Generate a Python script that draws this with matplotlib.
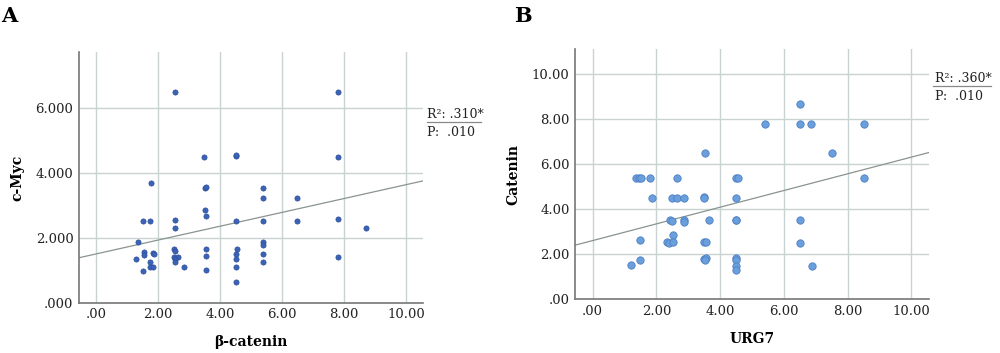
import matplotlib
matplotlib.use("Agg")
import matplotlib.pyplot as plt
import numpy as np

# Panel A data: beta-catenin vs c-Myc
a_x = [1.77, 1.50, 1.74, 1.34, 1.55, 1.55, 1.30, 1.75, 1.85, 1.87, 1.50, 1.75, 1.85,
       2.54, 2.54, 2.50, 2.54, 2.50, 2.66, 2.54, 2.54, 2.84, 2.54,
       3.51, 3.56, 3.50, 3.54, 3.54, 3.54, 3.54, 3.47,
       4.51, 4.54, 4.51, 4.51, 4.51, 4.51, 4.51, 4.53,
       5.40, 5.40, 5.40, 5.40, 5.40, 5.40, 5.40,
       6.49, 6.49, 7.80, 7.80, 7.80, 7.80, 8.70]
a_y = [3.67, 2.52, 2.52, 1.88, 1.55, 1.47, 1.33, 1.26, 1.53, 1.50, 0.97, 1.10, 1.10,
       2.55, 2.31, 1.66, 1.58, 1.40, 1.41, 1.33, 1.24, 1.10, 6.49,
       3.52, 3.56, 2.86, 2.66, 1.66, 1.45, 1.00, 4.49,
       2.52, 1.66, 1.50, 1.33, 1.10, 0.65, 4.51, 4.53,
       3.52, 3.21, 2.52, 1.87, 1.76, 1.50, 1.26,
       3.21, 2.52, 2.56, 1.41, 6.49, 4.49, 2.31]
a_fit = (1.50, 0.213)  # intercept, slope

# Panel B data: URG7 vs Catenin
b_x = [1.37, 1.47, 1.52, 1.81, 2.66, 4.50, 4.57, 8.51,
       1.86, 2.50, 2.65, 2.86, 3.50, 3.50, 4.50,
       2.42, 2.50, 2.86, 2.86, 3.66, 4.50, 4.50, 6.51,
       2.51, 1.50, 2.33, 2.41, 2.51, 3.50, 3.56, 6.51,
       1.50, 1.20, 3.50, 3.55, 3.52, 4.50, 4.50, 4.50, 4.50, 6.88,
       3.52, 5.40, 6.50, 6.50, 6.84, 7.50, 8.51]
b_y = [5.41, 5.41, 5.41, 5.41, 5.41, 5.41, 5.41, 5.41,
       4.50, 4.50, 4.50, 4.50, 4.53, 4.50, 4.50,
       3.54, 3.50, 3.54, 3.44, 3.54, 3.54, 3.51, 3.51,
       2.84, 2.65, 2.55, 2.52, 2.55, 2.55, 2.55, 2.50,
       1.76, 1.53, 1.78, 1.84, 1.75, 1.85, 1.75, 1.50, 1.30, 1.50,
       6.50, 7.79, 8.70, 7.79, 7.79, 6.50, 7.79]
b_fit = (2.61, 0.371)

x_ticks = [0, 2, 4, 6, 8, 10]
x_ticklabels = [".00", "2.00", "4.00", "6.00", "8.00", "10.00"]
a_yticks = [0, 2, 4, 6]
a_yticklabels = [".000", "2.000", "4.000", "6.000"]
b_yticks = [0, 2, 4, 6, 8, 10]
b_yticklabels = [".00", "2.00", "4.00", "6.00", "8.00", "10.00"]

SERIF = "DejaVu Serif"
grid_c = "#c9d3d1"
fig = plt.figure(figsize=(10, 3.53), dpi=100)

def setup(ax, yticks, yticklabels, ylim, xlabel, ylabel):
    ax.set_xlim(-0.55, 10.55)
    ax.set_ylim(*ylim)
    ax.set_xticks(x_ticks)
    ax.set_xticklabels(x_ticklabels, fontfamily=SERIF, fontsize=9.5)
    ax.set_yticks(yticks)
    ax.set_yticklabels(yticklabels, fontfamily=SERIF, fontsize=9.5)
    ax.tick_params(length=0, pad=4, colors="#222222")
    ax.grid(True, color=grid_c, linewidth=1.0)
    ax.set_axisbelow(True)
    for s in ["top", "right"]:
        ax.spines[s].set_visible(False)
    for s in ["left", "bottom"]:
        ax.spines[s].set_color("#777777")
        ax.spines[s].set_linewidth(1.2)
    ax.set_xlabel(xlabel, fontfamily=SERIF, fontweight="bold", fontsize=10, labelpad=10)
    ax.set_ylabel(ylabel, fontfamily=SERIF, fontweight="bold", fontsize=10, labelpad=8)

axA = fig.add_axes([0.079, 0.1425, 0.344, 0.710])
setup(axA, a_yticks, a_yticklabels, (0, 7.71), "β-catenin", "c-Myc")
xs = np.array([-0.55, 10.55])
axA.plot(xs, a_fit[0] + a_fit[1] * xs, color="#8a948f", linewidth=0.9, zorder=2)
axA.scatter(a_x, a_y, s=14, color="#3a62b5", edgecolors="#2d4f98", linewidths=0.5, zorder=3)

axB = fig.add_axes([0.575, 0.152, 0.354, 0.709])
setup(axB, b_yticks, b_yticklabels, (0, 11.12), "URG7", "Catenin")
axB.plot(xs, b_fit[0] + b_fit[1] * xs, color="#8a948f", linewidth=0.9, zorder=2)
axB.scatter(b_x, b_y, s=28, color="#6a9fdc", edgecolors="#4f80c4", linewidths=0.6, zorder=3)

# annotations
fig.text(0.427, 1 - 118 / 353, "R²: .310*", fontfamily=SERIF, fontsize=9, color="#222222")
fig.add_artist(plt.Line2D([0.427, 0.481], [1 - 122 / 353] * 2, color="#888888", linewidth=0.9))
fig.text(0.427, 1 - 136 / 353, "P:  .010", fontfamily=SERIF, fontsize=9, color="#222222")

fig.text(0.935, 1 - 82 / 353, "R²: .360*", fontfamily=SERIF, fontsize=9, color="#222222")
fig.add_artist(plt.Line2D([0.933, 0.991], [1 - 86 / 353] * 2, color="#888888", linewidth=0.9))
fig.text(0.935, 1 - 100 / 353, "P:  .010", fontfamily=SERIF, fontsize=9, color="#222222")

fig.text(0.001, 1 - 22 / 353, "A", fontfamily=SERIF, fontweight="bold", fontsize=15)
fig.text(0.514, 1 - 22 / 353, "B", fontfamily=SERIF, fontweight="bold", fontsize=15)

fig.savefig("out.png", dpi=100)
